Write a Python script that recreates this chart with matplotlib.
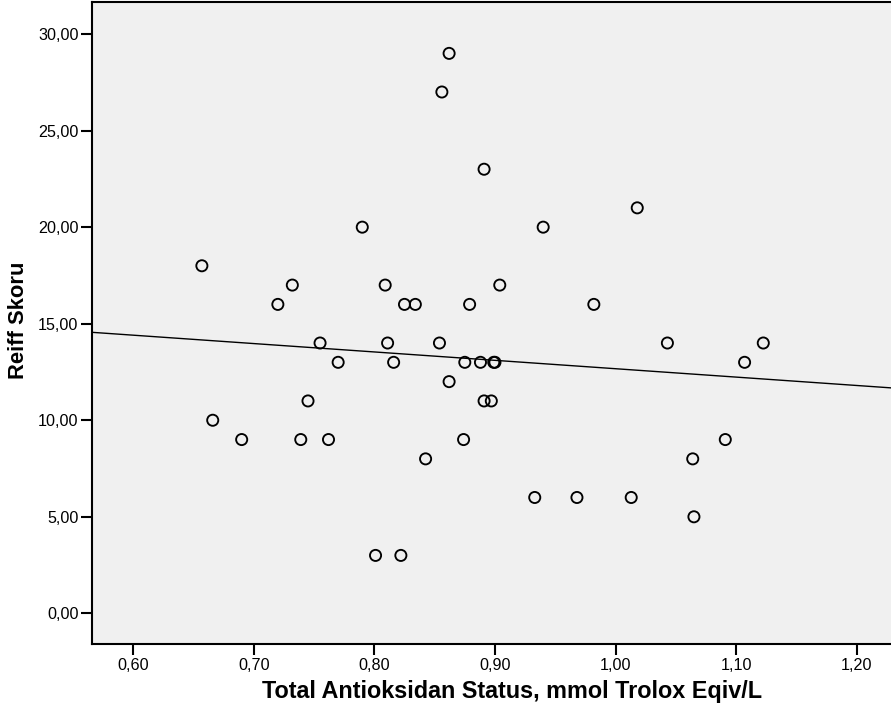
import numpy as np
import matplotlib
matplotlib.use("Agg")
import matplotlib.pyplot as plt
from matplotlib.ticker import FuncFormatter

plt.rcParams['font.family'] = ['Liberation Sans', 'DejaVu Sans']

# Total Antioksidan Status (mmol Trolox Eqiv/L) vs Reiff Skoru
tas = [
    0.862, 0.856, 0.891, 0.790, 0.940, 0.657, 0.732, 0.809, 0.904,
    0.720, 0.825, 0.834, 0.879,
    0.755, 0.811, 0.854, 0.770, 0.816, 0.875, 0.888, 0.899, 0.900,
    0.862, 0.745, 0.891, 0.897, 0.666, 0.690, 0.739, 0.762, 0.874,
    0.8425, 0.933, 0.801, 0.822,
    1.018, 0.982, 1.043, 1.1225, 1.107, 1.091, 1.064, 0.968, 1.013, 1.065,
]
reiff = [
    29, 27, 23, 20, 20, 18, 17, 17, 17,
    16, 16, 16, 16,
    14, 14, 14, 13, 13, 13, 13, 13, 13,
    12, 11, 11, 11, 10, 9, 9, 9, 9,
    8, 6, 3, 3,
    21, 16, 14, 14, 13, 9, 8, 6, 6, 5,
]

x_ticks = [0.60, 0.70, 0.80, 0.90, 1.00, 1.10, 1.20]
y_ticks = [0, 5, 10, 15, 20, 25, 30]

x = np.array(tas)
y = np.array(reiff)

fig = plt.figure(figsize=(8.91, 7.20), dpi=100)
ax = fig.add_axes([0.1038, 0.1051, 0.8962, 0.8921])
ax.set_facecolor('#f0f0f0')

ax.scatter(x, y, s=64, facecolors='none', edgecolors='black', linewidths=1.35, zorder=3)

# linear fit line across the whole axis
xlim = (0.5663, 1.2284)
slope, intercept = np.polyfit(x, y, 1)
xl = np.array(xlim)
ax.plot(xl, slope * xl + intercept, color='black', linewidth=1.0, zorder=2)

ax.set_xlim(*xlim)
ax.set_ylim(-1.605, 31.66)
ax.set_xticks(x_ticks)
ax.set_yticks(y_ticks)
comma = FuncFormatter(lambda v, p: f"{v:.2f}".replace('.', ','))
ax.xaxis.set_major_formatter(comma)
ax.yaxis.set_major_formatter(comma)
ax.tick_params(direction='out', length=8, width=1.5, labelsize=11.6,
               colors='black', pad=2)

for side in ['left', 'bottom', 'top']:
    ax.spines[side].set_linewidth(1.5)
ax.spines['right'].set_visible(False)

ax.set_xlabel('Total Antioksidan Status, mmol Trolox Eqiv/L', fontsize=16.8,
              fontweight='bold')
# the original plot frame runs past the right edge, so the title sits right of centre
ax.xaxis.set_label_coords(0.526, -0.073, transform=ax.transAxes)
ax.xaxis.label.set_va('center')
ax.set_ylabel('Reiff Skoru', fontsize=15.8, fontweight='bold')
ax.yaxis.set_label_coords(-0.093, 0.505, transform=ax.transAxes)
ax.yaxis.label.set_va('center')

fig.savefig('out.png', dpi=100)
